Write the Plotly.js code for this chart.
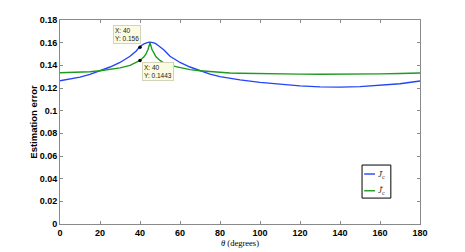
<!DOCTYPE html>
<html>
<head>
<meta charset="utf-8">
<script src="https://cdn.plot.ly/plotly-3.0.1.min.js"></script>
<style>html,body{margin:0;padding:0;background:#fff;}#chart{width:465px;height:252px;}</style>
</head>
<body>
<div id="chart"></div>
<script>
// ---- data ----
const theta = [0,5,10,15,20,25,30,35,38,40,42,43,44,45,46,47,48,50,52,55,60,65,70,75,80,85,90,100,110,120,130,135,140,150,160,170,180];
const jBar  = [0.1264,0.1278,0.1296,0.1320,0.1352,0.1385,0.1425,0.1480,0.1525,0.1565,0.1590,0.1598,0.1603,0.1605,0.1603,0.1598,0.1590,0.1565,0.1535,0.1480,0.1425,0.1385,0.1352,0.1322,0.1300,0.1285,0.1272,0.1250,0.1232,0.1219,0.1210,0.1207,0.1208,0.1212,0.1222,0.1238,0.1262];
const jTil  = [0.1335,0.1336,0.1339,0.1344,0.1352,0.1362,0.1378,0.1400,0.1423,0.1443,0.1475,0.1500,0.1540,0.1600,0.1540,0.1500,0.1475,0.1443,0.1420,0.1400,0.1378,0.1362,0.1352,0.1344,0.1338,0.1333,0.1330,0.1326,0.1323,0.1322,0.1321,0.1321,0.1322,0.1323,0.1325,0.1328,0.1332];
const seriesNames = ['<i>J\u0304</i><sub>c</sub>', '<i>J\u0303</i><sub>c</sub>'];
const tipX = [40, 40];
const tipY = [0.156, 0.1443];
const xTickVals = [0,20,40,60,80,100,120,140,160,180];
const yTickVals = [0,0.02,0.04,0.06,0.08,0.1,0.12,0.14,0.16,0.18];
const yTickText = ['0','0.02','0.04','0.06','0.08','0.1','0.12','0.14','0.16','0.18'];

const BLUE = '#2444f8', GREEN = '#1c9c1c', AX = '#8a8a8a';

const traces = [
  {x: theta, y: jBar, mode: 'lines', line: {color: BLUE, width: 1.4}, name: seriesNames[0]},
  {x: theta, y: jTil, mode: 'lines', line: {color: GREEN, width: 1.4}, name: seriesNames[1]},
  {x: tipX, y: tipY, mode: 'markers', marker: {color: '#000', size: 3.5}, hoverinfo: 'skip'}
];

const tickFont = {family: 'Liberation Sans, Arial, sans-serif', size: 9, weight: 'bold', color: '#000'};
const tipFont = {family: 'Liberation Sans, Arial, sans-serif', size: 6.5, color: '#222'};

const annotations = [
  {x: tipX[0], y: tipY[0], xref: 'x', yref: 'y', text: 'X: ' + tipX[0] + '<br>Y: ' + tipY[0],
   showarrow: false, xanchor: 'right', yanchor: 'bottom', align: 'left', xshift: 1, yshift: 3,
   bgcolor: '#fbfbe2', bordercolor: '#d4d4b8', borderwidth: 1, borderpad: 1, font: tipFont},
  {x: tipX[1], y: tipY[1], xref: 'x', yref: 'y', text: 'X: ' + tipX[1] + '<br>Y: ' + tipY[1],
   showarrow: false, xanchor: 'left', yanchor: 'top', align: 'left', xshift: 1.5, yshift: -1.5,
   bgcolor: '#fbfbe2', bordercolor: '#d4d4b8', borderwidth: 1, borderpad: 1, font: tipFont},
  // legend labels
  {x: 0.878, y: 0.245, xref: 'paper', yref: 'paper', text: seriesNames[0], showarrow: false,
   xanchor: 'left', yanchor: 'middle', font: {family: 'Liberation Serif, serif', size: 9, color: '#333'}},
  {x: 0.878, y: 0.163, xref: 'paper', yref: 'paper', text: seriesNames[1], showarrow: false,
   xanchor: 'left', yanchor: 'middle', font: {family: 'Liberation Serif, serif', size: 9, color: '#333'}}
];

const shapes = [
  {type: 'rect', xref: 'paper', yref: 'paper', x0: 0.839, x1: 0.919, y0: 0.127, y1: 0.289,
   line: {color: '#000', width: 1}, fillcolor: '#fff', layer: 'above'},
  {type: 'line', xref: 'paper', yref: 'paper', x0: 0.845, x1: 0.875, y0: 0.245, y1: 0.245,
   line: {color: BLUE, width: 1.4}},
  {type: 'line', xref: 'paper', yref: 'paper', x0: 0.845, x1: 0.875, y0: 0.163, y1: 0.163,
   line: {color: GREEN, width: 1.4}}
];

const layout = {
  width: 465, height: 252,
  margin: {l: 60, r: 45, t: 20, b: 28, pad: 0},
  paper_bgcolor: '#fff', plot_bgcolor: '#fff',
  showlegend: false,
  xaxis: {range: [0, 180], tickvals: xTickVals, ticks: 'inside', ticklen: 3, tickcolor: AX,
          showline: true, linecolor: AX, linewidth: 1, mirror: 'ticks', showgrid: false, zeroline: false,
          tickfont: tickFont,
          title: {text: '<i>θ</i> (degrees)', standoff: 0, font: {family: 'Liberation Serif, serif', size: 8.5, color: '#000'}}},
  yaxis: {range: [0, 0.18], tickvals: yTickVals, ticktext: yTickText, ticks: 'inside', ticklen: 3, tickcolor: AX,
          showline: true, linecolor: AX, linewidth: 1, mirror: 'ticks', showgrid: false, zeroline: false,
          tickfont: tickFont,
          title: {text: 'Estimation error', standoff: 0, font: {family: 'Liberation Sans, Arial, sans-serif', size: 9.5, weight: 'bold', color: '#000'}}},
  annotations: annotations,
  shapes: shapes
};

Plotly.newPlot('chart', traces, layout, {displayModeBar: false, staticPlot: true});
</script>
</body>
</html>
